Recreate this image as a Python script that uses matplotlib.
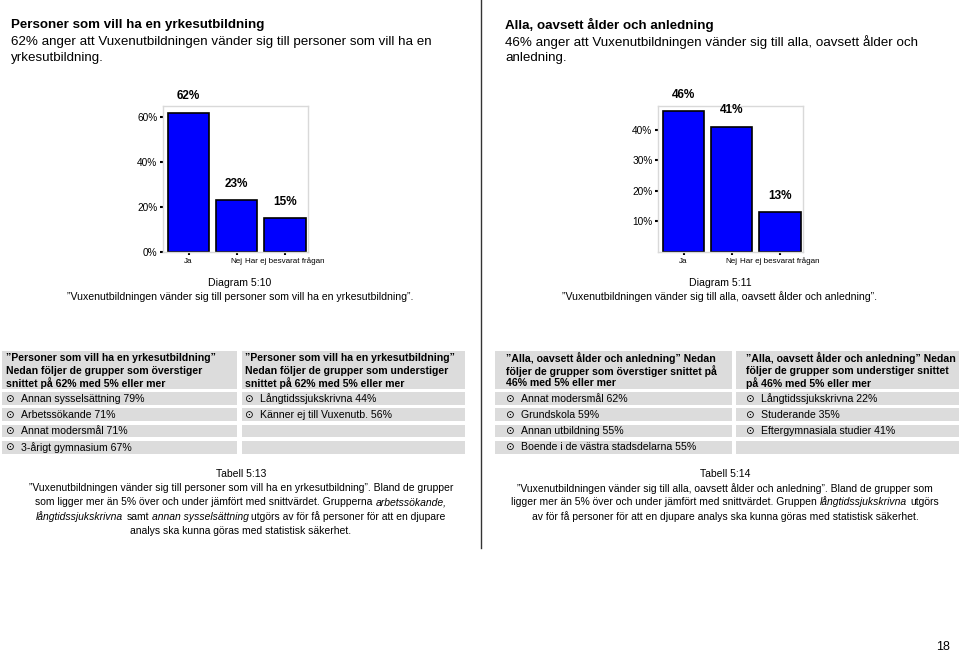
import matplotlib
matplotlib.use("Agg")
import matplotlib.pyplot as plt
from matplotlib.patches import Rectangle

plt.rcParams['font.family'] = ['Liberation Sans', 'DejaVu Sans']

# Data
categories = ["Ja", "Nej", "Har ej besvarat frågan"]
values_yrke = [62, 23, 15]     # Diagram 5:10
values_alla = [46, 41, 13]     # Diagram 5:11

over_yrke = ["Annan sysselsättning 79%", "Arbetssökande 71%",
             "Annat modersmål 71%", "3-årigt gymnasium 67%"]
under_yrke = ["Långtidssjukskrivna 44%", "Känner ej till Vuxenutb. 56%"]
over_alla = ["Annat modersmål 62%", "Grundskola 59%",
             "Annan utbildning 55%", "Boende i de västra stadsdelarna 55%"]
under_alla = ["Långtidssjukskrivna 22%", "Studerande 35%",
              "Eftergymnasiala studier 41%"]

W, H = 960, 658
fig = plt.figure(figsize=(W / 100, H / 100), dpi=100)
page = fig.add_axes([0, 0, 1, 1])
page.set_xlim(0, W)
page.set_ylim(H, 0)
page.axis('off')


def ax_rect(x0, y0, x1, y1):
    return [x0 / W, 1 - y1 / H, (x1 - x0) / W, (y1 - y0) / H]


def bar_chart(rect, vals, ymax, yticks):
    ax = fig.add_axes(rect)
    xs = range(len(categories))
    ax.bar(xs, vals, width=0.86, color='#0000ff', edgecolor='black', linewidth=1.2)
    for xi, v in zip(xs, vals):
        ax.annotate(f"{v}%", (xi, v), xytext=(0, 12), textcoords='offset points',
                    ha='center', va='center', fontsize=8.5, fontweight='bold')
    ax.set_xlim(-0.53, 2.48)
    ax.set_ylim(0, ymax)
    ax.set_yticks(yticks)
    ax.set_yticklabels([f"{t}%" for t in yticks])
    ax.set_xticks(list(xs))
    ax.set_xticklabels(categories)
    ax.tick_params(length=2.5, width=1.5, pad=1.5)
    ax.tick_params(axis='y', labelsize=7.3)
    ax.tick_params(axis='x', labelsize=5.8)
    for sp in ax.spines.values():
        sp.set_color('#d9d9d9')
        sp.set_linewidth(1)
    return ax


bar_chart(ax_rect(163, 106, 308, 252), values_yrke, 65, [0, 20, 40, 60])
bar_chart(ax_rect(658, 106, 803, 252), values_alla, 47.7, [10, 20, 30, 40])

# divider
page.plot([481, 481], [0, 548], color='#333333', lw=1)


# page titles
def title_block(x, bold, lines):
    page.text(x, 25, bold, fontsize=9.6, fontweight='bold', va='center')
    for i, ln in enumerate(lines):
        page.text(x, 42 + i * 16, ln, fontsize=9.6, va='center')


title_block(11, "Personer som vill ha en yrkesutbildning",
            ["62% anger att Vuxenutbildningen vänder sig till personer som vill ha en",
             "yrkesutbildning."])
title_block(505, "Alla, oavsett ålder och anledning",
            ["46% anger att Vuxenutbildningen vänder sig till alla, oavsett ålder och",
             "anledning."])

# diagram captions
for xc, num, txt in [(240, "Diagram 5:10",
                      "”Vuxenutbildningen vänder sig till personer som vill ha en yrkesutbildning”."),
                     (720, "Diagram 5:11",
                      "”Vuxenutbildningen vänder sig till alla, oavsett ålder och anledning”.")]:
    page.text(xc, 283, num, fontsize=7.6, ha='center', va='center')
    page.text(xc, 297, txt, fontsize=7.6, ha='center', va='center')


# tables
def table_col(x0, x1, pad, header, items):
    page.add_patch(Rectangle((x0, 351), x1 - x0, 38, color='#dcdcdc', lw=0))
    for i, ln in enumerate(header):
        page.text(x0 + pad, 358 + i * 12.6, ln, fontsize=7.6, fontweight='bold', va='center')
    for i in range(4):
        y = 392 + i * 16.3
        page.add_patch(Rectangle((x0, y), x1 - x0, 12.8, color='#dcdcdc', lw=0))
        if i < len(items):
            page.text(x0 + pad - 1, y + 6.5, "⊙", fontsize=7.5, va='center',
                      family=['DejaVu Sans'])
            page.text(x0 + pad + 15, y + 6.5, items[i], fontsize=7.6, va='center')


table_col(2, 237, 4, ["”Personer som vill ha en yrkesutbildning”",
                      "Nedan följer de grupper som överstiger",
                      "snittet på 62% med 5% eller mer"], over_yrke)
table_col(242, 465, 3, ["”Personer som vill ha en yrkesutbildning”",
                        "Nedan följer de grupper som understiger",
                        "snittet på 62% med 5% eller mer"], under_yrke)
table_col(495, 732, 11, ["”Alla, oavsett ålder och anledning” Nedan",
                         "följer de grupper som överstiger snittet på",
                         "46% med 5% eller mer"], over_alla)
table_col(736, 959, 10, ["”Alla, oavsett ålder och anledning” Nedan",
                         "följer de grupper som understiger snittet",
                         "på 46% med 5% eller mer"], under_alla)

# table captions with italic parts: segments chained to each other, then centred
N, I = 'normal', 'italic'
cap_size = 7.5
cap_left = [
    [("Tabell 5:13", N)],
    [("”Vuxenutbildningen vänder sig till personer som vill ha en yrkesutbildning”. Bland de grupper", N)],
    [("som ligger mer än 5% över och under jämfört med snittvärdet. Grupperna", N), ("arbetssökande,", I)],
    [("långtidssjukskrivna", I), ("samt", N), ("annan sysselsättning", I),
     ("utgörs av för få personer för att en djupare", N)],
    [("analys ska kunna göras med statistisk säkerhet.", N)],
]
cap_right = [
    [("Tabell 5:14", N)],
    [("”Vuxenutbildningen vänder sig till alla, oavsett ålder och anledning”. Bland de grupper som", N)],
    [("ligger mer än 5% över och under jämfört med snittvärdet. Gruppen", N),
     ("långtidssjukskrivna", I), ("utgörs", N)],
    [("av för få personer för att en djupare analys ska kunna göras med statistisk säkerhet.", N)],
]

groups = []


def rich_line(segments, xc, y, size):
    first = page.text(xc, y, segments[0][0], fontsize=size, style=segments[0][1],
                      va='center', ha='left')
    texts = [first]
    prev = first
    for s, st in segments[1:]:
        prev = page.annotate(s, xy=(1, 0), xycoords=prev, xytext=(2.1, 0),
                             textcoords='offset points', fontsize=size, style=st,
                             ha='left', va='bottom')
        texts.append(prev)
    groups.append((texts, xc))


for i, segs in enumerate(cap_left):
    rich_line(segs, 241, 474 + i * 14.2, cap_size)
for i, segs in enumerate(cap_right):
    rich_line(segs, 725, 474 + i * 14.2, cap_size)

page.text(943, 647, "18", fontsize=9, ha='center', va='center')

fig.canvas.draw()
renderer = fig.canvas.get_renderer()
for texts, xc in groups:
    boxes = [t.get_window_extent(renderer) for t in texts]
    x0 = min(b.x0 for b in boxes)
    x1 = max(b.x1 for b in boxes)
    texts[0].set_x(texts[0].get_position()[0] - ((x0 + x1) / 2 - xc))

fig.savefig("out.png", dpi=100)
